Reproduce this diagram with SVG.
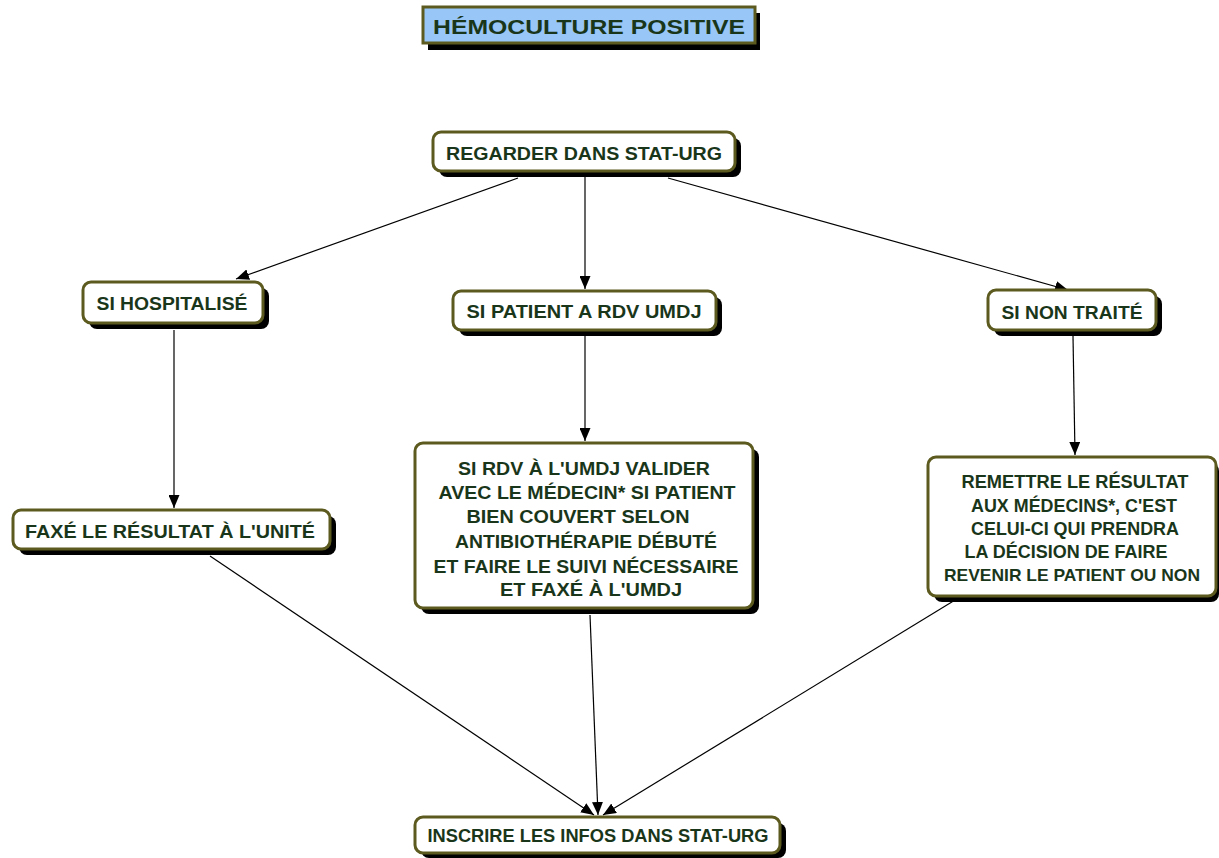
<svg xmlns="http://www.w3.org/2000/svg" width="1219" height="858" viewBox="0 0 1219 858">
<style>
.sh{fill:#000;}
.box{fill:#fff;stroke:#5c5a1e;stroke-width:3;}
.title{fill:#98c6f6;stroke:#5c5a1e;stroke-width:3;}
text{font-family:"Liberation Sans",Arial,sans-serif;font-weight:bold;fill:#1a361a;text-anchor:middle;}
.t{font-size:19px;}
.ts{font-size:17px;}
.tt{font-size:20px;}
.c line{stroke:#000;stroke-width:1.2;}
</style>
<defs>
<marker id="ah" viewBox="0 0 13 11" refX="13" refY="5.5" markerWidth="13" markerHeight="11" markerUnits="userSpaceOnUse" orient="auto">
<path d="M0,0 L13,5.5 L0,11 z" fill="#000"/>
</marker>
</defs>
<rect width="1219" height="858" fill="#fff"/>
<g id="connectors" class="c">
<line x1="518" y1="178" x2="236" y2="279" marker-end="url(#ah)"/>
<line x1="585" y1="176" x2="585" y2="289" marker-end="url(#ah)"/>
<line x1="668" y1="178" x2="1068" y2="290" marker-end="url(#ah)"/>
<line x1="174" y1="330" x2="174" y2="508" marker-end="url(#ah)"/>
<line x1="585" y1="335" x2="585" y2="441" marker-end="url(#ah)"/>
<line x1="1073" y1="336" x2="1075" y2="455" marker-end="url(#ah)"/>
<line x1="210" y1="556" x2="594" y2="815" marker-end="url(#ah)"/>
<line x1="590" y1="615" x2="598" y2="815" marker-end="url(#ah)"/>
<line x1="960" y1="597" x2="603" y2="815" marker-end="url(#ah)"/>
</g>
<g id="title">
<rect class="sh" x="428" y="13" width="332" height="37"/>
<rect class="title" x="423" y="7" width="332" height="36"/>
<text class="tt" x="589" y="34" textLength="312" lengthAdjust="spacingAndGlyphs">HÉMOCULTURE POSITIVE</text>
</g>
<g id="regarder">
<rect class="sh" x="439" y="138" width="302" height="39" rx="8"/>
<rect class="box" x="433" y="132" width="302" height="39" rx="8"/>
<text class="t" x="584" y="160" textLength="276" lengthAdjust="spacingAndGlyphs">REGARDER DANS STAT-URG</text>
</g>
<g id="hospitalise">
<rect class="sh" x="89" y="288" width="180" height="41" rx="8"/>
<rect class="box" x="83" y="282" width="180" height="41" rx="8"/>
<text class="t" x="172" y="310" textLength="151" lengthAdjust="spacingAndGlyphs">SI HOSPITALISÉ</text>
</g>
<g id="rdv">
<rect class="sh" x="459" y="297" width="263" height="39" rx="8"/>
<rect class="box" x="453" y="291" width="263" height="39" rx="8"/>
<text class="t" x="584" y="318" textLength="235" lengthAdjust="spacingAndGlyphs">SI PATIENT A RDV UMDJ</text>
</g>
<g id="nontraite">
<rect class="sh" x="994" y="296" width="168" height="40" rx="8"/>
<rect class="box" x="988" y="290" width="168" height="40" rx="8"/>
<text class="t" x="1072" y="319" textLength="141" lengthAdjust="spacingAndGlyphs">SI NON TRAITÉ</text>
</g>
<g id="faxe">
<rect class="sh" x="19" y="516" width="317" height="39" rx="8"/>
<rect class="box" x="13" y="510" width="317" height="39" rx="8"/>
<text class="t" x="170" y="538" textLength="290" lengthAdjust="spacingAndGlyphs">FAXÉ LE RÉSULTAT À L'UNITÉ</text>
</g>
<g id="valider">
<rect class="sh" x="421" y="449" width="338" height="165" rx="8"/>
<rect class="box" x="415" y="443" width="338" height="165" rx="8"/>
<text class="t" x="584" y="475" textLength="252" lengthAdjust="spacingAndGlyphs">SI RDV À L'UMDJ VALIDER</text>
<text class="t" x="587" y="499" textLength="297" lengthAdjust="spacingAndGlyphs">AVEC LE MÉDECIN* SI PATIENT</text>
<text class="t" x="578" y="523" textLength="223" lengthAdjust="spacingAndGlyphs">BIEN COUVERT SELON</text>
<text class="t" x="586" y="548" textLength="262" lengthAdjust="spacingAndGlyphs">ANTIBIOTHÉRAPIE DÉBUTÉ</text>
<text class="t" x="586" y="573" textLength="305" lengthAdjust="spacingAndGlyphs">ET FAIRE LE SUIVI NÉCESSAIRE</text>
<text class="t" x="591" y="596" textLength="182" lengthAdjust="spacingAndGlyphs">ET FAXÉ À L'UMDJ</text>
</g>
<g id="remettre">
<rect class="sh" x="934" y="463" width="285" height="139" rx="8"/>
<rect class="box" x="928" y="457" width="288" height="139" rx="8"/>
<text class="t" x="1075" y="488" textLength="227" lengthAdjust="spacingAndGlyphs">REMETTRE LE RÉSULTAT</text>
<text class="t" x="1074" y="512" textLength="206" lengthAdjust="spacingAndGlyphs">AUX MÉDECINS*, C'EST</text>
<text class="t" x="1075" y="535" textLength="208" lengthAdjust="spacingAndGlyphs">CELUI-CI QUI PRENDRA</text>
<text class="t" x="1066" y="558" textLength="203" lengthAdjust="spacingAndGlyphs">LA DÉCISION DE FAIRE</text>
<text class="ts" x="1072" y="581" textLength="256" lengthAdjust="spacingAndGlyphs">REVENIR LE PATIENT OU NON</text>
</g>
<g id="inscrire">
<rect class="sh" x="421" y="823" width="365" height="35" rx="8"/>
<rect class="box" x="415" y="817" width="365" height="36" rx="8"/>
<text class="t" x="598" y="842" textLength="341" lengthAdjust="spacingAndGlyphs">INSCRIRE LES INFOS DANS STAT-URG</text>
</g>
</svg>
